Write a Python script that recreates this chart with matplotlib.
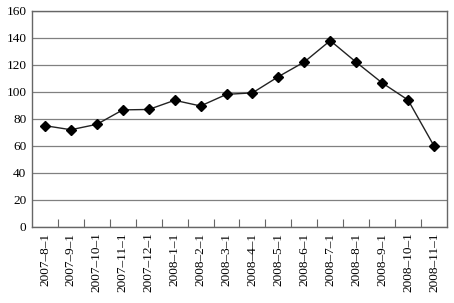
import matplotlib
matplotlib.use("Agg")
import matplotlib.pyplot as plt
import numpy as np

plt.rcParams['font.family'] = ['Liberation Serif', 'DejaVu Serif']

labels = ["2007–8–1", "2007–9–1", "2007–10–1", "2007–11–1", "2007–12–1",
          "2008–1–1", "2008–2–1", "2008–3–1", "2008–4–1", "2008–5–1",
          "2008–6–1", "2008–7–1", "2008–8–1", "2008–9–1", "2008–10–1",
          "2008–11–1"]
values = [75, 72, 76, 86.7, 87, 93.8, 89.6, 98.2, 99.3, 111.3,
          122.2, 138, 122, 106.7, 94, 60]

fig = plt.figure(figsize=(4.54, 3.03), dpi=100)
ax = fig.add_axes([0.0705, 0.251, 0.914, 0.713])

x = np.arange(len(values))
ax.plot(x, values, color='#222222', lw=1, marker='D', markersize=5,
        markerfacecolor='black', markeredgecolor='black')

ax.set_xlim(-0.5, len(values) - 0.5)
ax.set_ylim(0, 160)
ax.set_yticks(range(0, 161, 20))
ax.yaxis.grid(True, color='#808080', lw=0.9)
ax.set_axisbelow(True)

ax.set_xticks(np.arange(0.5, len(values) - 0.5, 1))
ax.set_xticklabels([])
ax.tick_params(axis='x', which='major', direction='in', length=6, color='#666666')
ax.set_xticks(x, minor=True)
ax.set_xticklabels(labels, minor=True, rotation=90, fontsize=9.5)
ax.tick_params(axis='x', which='minor', length=0, pad=4)
ax.tick_params(axis='y', length=0, labelsize=9.5, pad=4)

for s in ax.spines.values():
    s.set_color('#666666')
    s.set_linewidth(1)

fig.savefig("out.png", dpi=100)
